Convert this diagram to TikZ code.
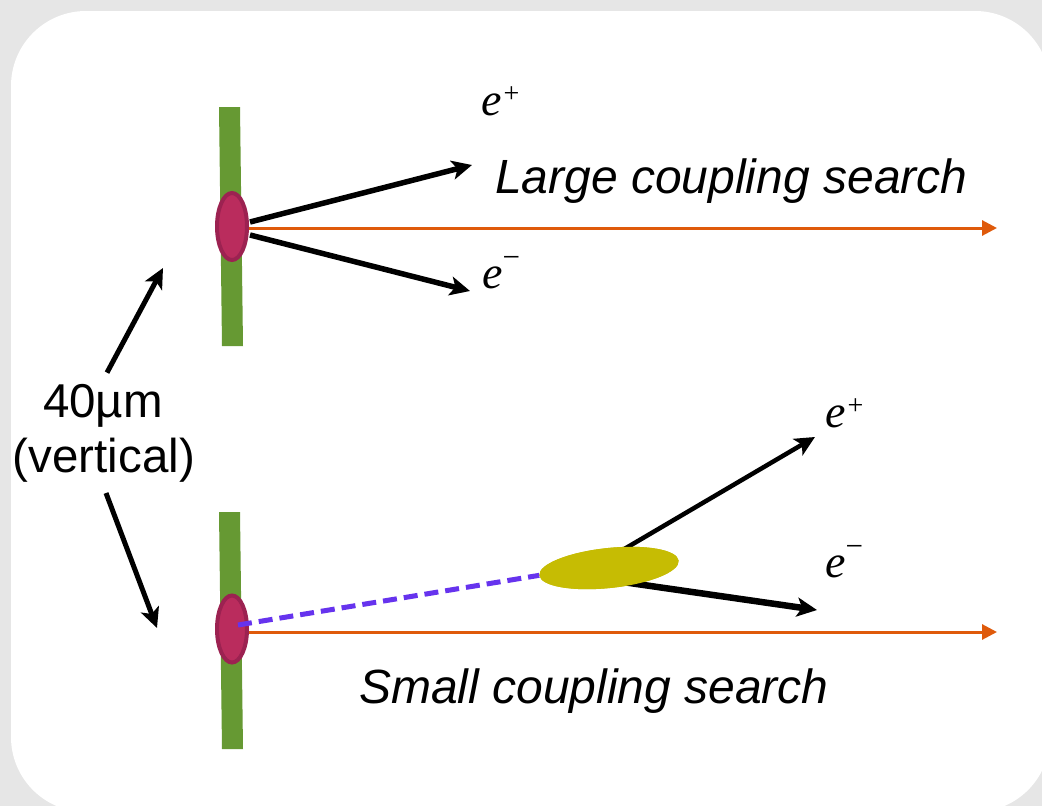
\documentclass[tikz,border=0pt]{standalone}
\usepackage{fontspec}
\setmainfont{Liberation Sans}
\newfontfamily\tnr{Liberation Serif}
\usetikzlibrary{arrows.meta,shapes.geometric}

\definecolor{bggray}{HTML}{E6E6E6}
\definecolor{targetgreen}{HTML}{669933}
\definecolor{vtxfill}{HTML}{BA2C5D}
\definecolor{vtxedge}{HTML}{9C2251}
\definecolor{beamorange}{HTML}{DF5A0B}
\definecolor{photonblue}{HTML}{6633EE}
\definecolor{decayyellow}{HTML}{C6BC03}

% e+ and e- labels
\newcommand{\posi}{{\tnr\fontsize{46}{50}\selectfont\itshape e\kern2pt\raisebox{13pt}{\fontsize{28}{28}\selectfont\upshape +}}}
\newcommand{\elec}{{\tnr\fontsize{46}{50}\selectfont\itshape e\raisebox{20.5pt}{\fontsize{31}{31}\selectfont\upshape −}}}

\tikzset{
  target/.style={fill=targetgreen},
  vertex/.style={ellipse, fill=vtxfill, draw=vtxedge, line width=4pt,
    minimum width=30pt, minimum height=67pt, inner sep=0pt},
  lepton/.style={draw=black, line width=5.5pt,
    -{Stealth[length=20pt,width=19pt,inset=5pt]}},
  beam/.style={draw=beamorange, line width=3pt,
    -{Triangle[length=15pt,width=15pt]}},
  photon/.style={draw=photonblue, line width=5pt, dash pattern=on 14pt off 7pt},
  decaybox/.style={ellipse, fill=decayyellow, minimum width=140pt,
    minimum height=40pt, inner sep=0pt, rotate=6},
  bigtext/.style={inner sep=0pt, anchor=base west,
    font=\fontsize{48}{56}\selectfont\itshape},
  sizetext/.style={inner sep=0pt, anchor=base,
    font=\fontsize{47.5}{56}\selectfont},
  plabel/.style={inner sep=0pt, anchor=base west}
}

\begin{document}
\begin{tikzpicture}[x=1pt,y=-1pt]
  % panel background
  \useasboundingbox (0,0) rectangle (1042,806);
  \fill[bggray] (0,0) rectangle (1042,806);
  \clip (0,0) rectangle (1042,806);
  \fill[white, rounded corners=75pt] (11,11) rectangle (1050,812);

  % ---------- upper panel: large coupling ----------
  \fill[target] (219,107) -- (240,107) -- (243,346) -- (222,346) -- cycle;
  \coordinate (beamEndA) at (997,228);
  \coordinate (tipAp) at (472,165);
  \coordinate (tipAm) at (470,291);
  \node[vertex] (vtxA) at (232,226.5) {};
  \draw[beam] (vtxA.east |- beamEndA) -- (beamEndA);
  \draw[lepton] ([xshift=1pt,yshift=4.5pt]vtxA.east) -- (tipAp);
  \draw[lepton] ([xshift=1pt,yshift=-8.5pt]vtxA.east) -- (tipAm);
  \node[plabel] (labAp) at (481,115) {\posi};
  \node[plabel] (labAm) at (482,288) {\elec};
  \node[bigtext] (titleA) at (495,193) {Large coupling search};

  % ---------- lower panel: small coupling ----------
  \fill[target] (219,512) -- (240,512) -- (243,749) -- (222,749) -- cycle;
  \coordinate (beamEndB) at (997,632);
  \coordinate (tipBp) at (815,437);
  \coordinate (tipBm) at (817,610);
  \node[vertex] (vtxB) at (232,629) {};
  \draw[beam] (vtxB.east |- beamEndB) -- (beamEndB);
  \node[decaybox] (decay) at (609,568) {};
  \draw[lepton, line width=4.5pt] ([yshift=10pt]decay.center) -- (tipBp);
  \draw[lepton, line width=6.5pt] ([yshift=-12pt]decay.center) -- (tipBm);
  \node[decaybox] at (decay.center) {};
  \draw[photon] ([xshift=6pt,yshift=4pt]vtxB.center) -- (decay.west);
  \node[plabel] (labBp) at (825,427) {\posi};
  \node[plabel] (labBm) at (825,577) {\elec};
  \node[bigtext] (titleB) at (359,703) {Small coupling search};

  % ---------- separation label ----------
  \node[sizetext] (sepA) at (103,417) {40µm};
  \node[sizetext] (sepB) at (104,472) {(vertical)};
  \coordinate (upTip) at (163,268);
  \coordinate (downTip) at (157,628);
  \draw[lepton, line width=5pt] ([xshift=4pt,yshift=11pt]sepA.north) -- (upTip);
  \draw[lepton, line width=5pt] ([xshift=2pt,yshift=-11pt]sepB.south) -- (downTip);
\end{tikzpicture}
\end{document}
